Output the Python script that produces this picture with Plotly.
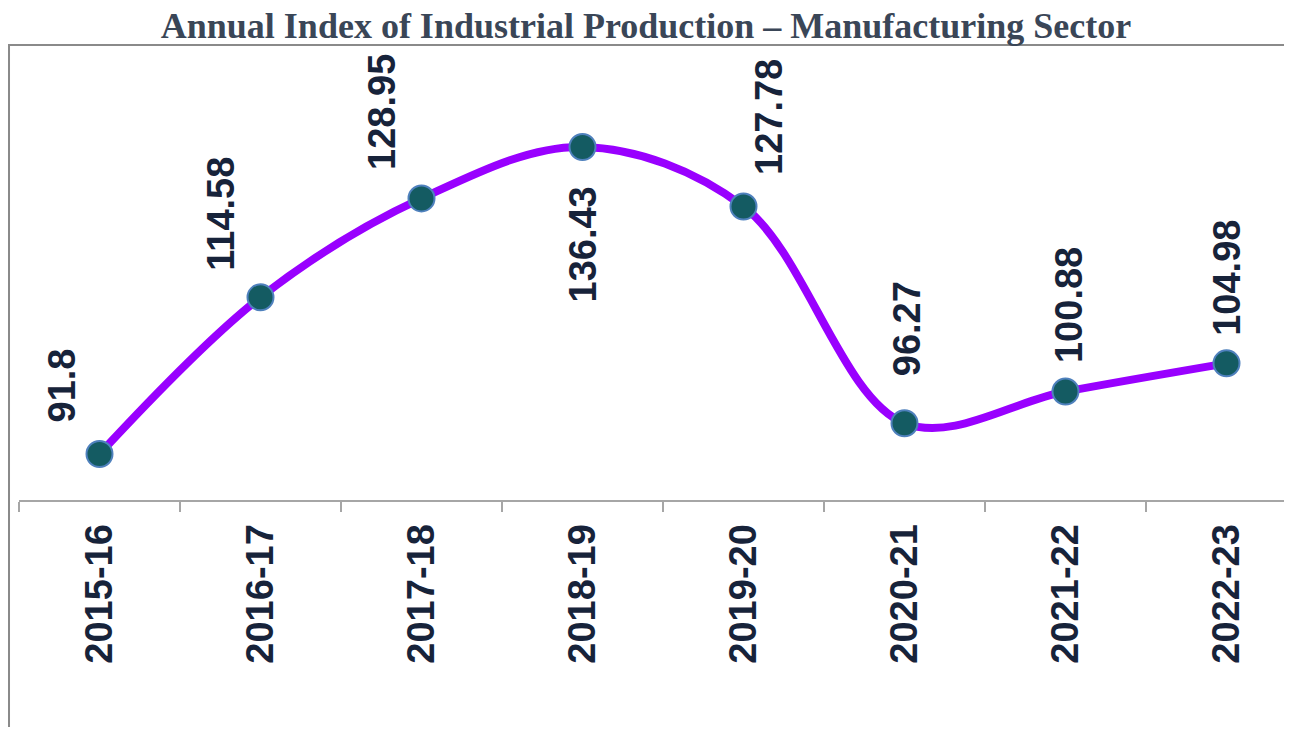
import plotly.graph_objects as go

YEARS = ["2015-16", "2016-17", "2017-18", "2018-19", "2019-20", "2020-21", "2021-22", "2022-23"]
INDEX_VALUES = [91.8, 114.58, 128.95, 136.43, 127.78, 96.27, 100.88, 104.98]

LINE_PURPLE = "#9900ff"
MARKER_TEAL = "#145b62"
MARKER_EDGE = "#4f81bd"
TEXT_NAVY = "#17233a"
AXIS_GREY = "#a6a6a6"
FRAME_GREY = "#8a8a8a"

# label placement relative to each point: (dx px, dy px, above?)
LABEL_PLACEMENT = [(-38, 29, True), (-39, 24, True), (-39, 26, True), (0, 38, False),
                   (26, 29, True), (2, 45, True), (3, 26, True), (1, 25, True)]

# page has an 8px body margin, so the figure is sized to fit inside it
W, H = 1276, 719
L, R, T, B = 11, 0, 64, 227
CAT_PX = 161

fig = go.Figure(
    go.Scatter(
        x=YEARS,
        y=INDEX_VALUES,
        mode="lines+markers",
        line=dict(color=LINE_PURPLE, width=8, shape="spline", smoothing=1.0),
        marker=dict(size=26, color=MARKER_TEAL, line=dict(color=MARKER_EDGE, width=2)),
        cliponaxis=False,
        hoverinfo="x+y",
    )
)

for year, value, (dx, dy, above) in zip(YEARS, INDEX_VALUES, LABEL_PLACEMENT):
    fig.add_annotation(
        x=year,
        y=value,
        text=f"{value:g}",
        textangle=-90,
        showarrow=False,
        xanchor="center",
        yanchor="bottom" if above else "top",
        xshift=dx,
        yshift=dy if above else -dy,
        font=dict(family="Liberation Sans, Arial, sans-serif", size=38, color=TEXT_NAVY, weight="bold"),
    )

plot_w = W - L - R
plot_h = H - T - B
# outer chart frame (runs past the right and bottom edges of the view)
fig.add_shape(
    type="rect",
    xref="paper",
    yref="paper",
    x0=(0 - L) / plot_w + 0.0008,
    x1=1.05,
    y0=-0.6,
    y1=(plot_h + T - 37) / plot_h,
    line=dict(color=FRAME_GREY, width=2),
    fillcolor="rgba(0,0,0,0)",
    layer="below",
)

fig.update_layout(
    width=W,
    height=H,
    margin=dict(l=L, r=R, t=T, b=B),
    paper_bgcolor="white",
    plot_bgcolor="white",
    showlegend=False,
    title=dict(
        text="Annual Index of Industrial Production – Manufacturing Sector",
        x=0.5,
        xref="container",
        xanchor="center",
        y=1 - 17 / H,
        yref="container",
        yanchor="middle",
        font=dict(family="Liberation Serif, Times New Roman, serif", size=36, color="#3a4657", weight="bold"),
    ),
)
fig.update_xaxes(
    type="category",
    range=[-0.5, -0.5 + plot_w / CAT_PX],
    showline=True,
    linecolor=AXIS_GREY,
    linewidth=2,
    ticks="outside",
    tickson="boundaries",
    ticklen=10,
    tickwidth=2,
    tickcolor=AXIS_GREY,
    tickangle=-90,
    ticklabelstandoff=7,
    tickfont=dict(family="Liberation Sans, Arial, sans-serif", size=38, color=TEXT_NAVY, weight="bold"),
    showgrid=False,
    zeroline=False,
    fixedrange=True,
)
fig.update_yaxes(
    range=[85.11, 147.33],
    visible=False,
    showgrid=False,
    zeroline=False,
    fixedrange=True,
)

fig.write_html("out.html")
